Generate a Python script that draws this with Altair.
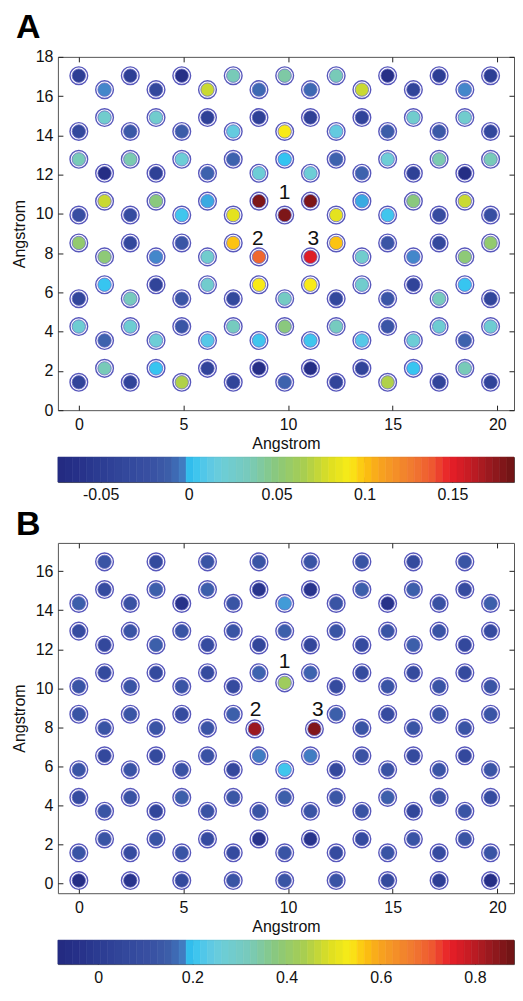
import altair as alt
import pandas as pd

FONT = "Liberation Sans"

# lattice columns (Angstrom)
X_COLS = [0.00, 1.23, 2.46, 3.69, 4.92, 6.15, 7.38, 8.61, 9.84, 11.07,
          12.30, 13.53, 14.76, 15.99, 17.22, 18.45, 19.68]

# ---------------- panel A ----------------
A_ROW_Y = [17.04, 16.33, 14.91, 14.20, 12.78, 12.07, 10.65, 9.94,
           8.52, 7.81, 6.39, 5.68, 4.26, 3.55, 2.13, 1.42]
A_ROW_VAL = [
    [-0.048, -0.048, -0.066, 0.035, 0.040, 0.035, -0.066, -0.048, -0.048],
    [-0.002, -0.035, 0.075, -0.008, -0.008, 0.075, -0.040, -0.002],
    [0.025, 0.025, -0.045, -0.045, -0.045, -0.040, 0.025, 0.025],
    [-0.035, -0.015, -0.012, 0.015, 0.092, 0.015, -0.012, -0.015, -0.035],
    [0.035, 0.037, 0.020, -0.010, 0.002, -0.010, 0.020, 0.037, 0.035],
    [-0.068, -0.045, -0.010, 0.020, 0.020, -0.010, -0.045, -0.068],
    [0.075, 0.050, 0.000, 0.180, 0.180, 0.000, 0.050, 0.075],
    [-0.025, -0.030, 0.005, 0.083, 0.180, 0.083, 0.005, -0.030, -0.025],
    [0.055, -0.035, -0.018, 0.100, None, 0.100, -0.018, -0.035, 0.055],
    [0.052, -0.002, 0.025, 0.133, 0.152, 0.025, -0.002, 0.052],
    [0.003, -0.040, 0.025, 0.092, 0.092, 0.025, -0.040, 0.003],
    [-0.038, 0.033, -0.018, -0.035, 0.030, -0.035, -0.018, 0.033, -0.038],
    [0.022, 0.022, -0.018, 0.032, 0.050, 0.032, -0.018, 0.022, 0.022],
    [-0.010, 0.020, 0.010, 0.005, 0.005, 0.010, 0.020, -0.010],
    [0.035, 0.003, -0.040, -0.068, -0.068, -0.040, 0.003, 0.035],
    [-0.040, -0.040, 0.068, -0.040, -0.010, -0.040, 0.068, -0.040, -0.040],
]
A_LABEL_X = [9.84, 8.55, 11.21]
A_LABEL_Y = [10.76, 8.39, 8.39]
A_LABEL_T = ["1", "2", "3"]
A_CBAR_MIN, A_CBAR_MAX = -0.0743, 0.185
A_CBAR_TICKS = [-0.05, 0, 0.05, 0.1, 0.15]
A_X_DOMAIN = [-1.0, 20.8]
A_Y_DOMAIN = [0, 18]
A_Y_TICKS = [0, 2, 4, 6, 8, 10, 12, 14, 16, 18]

# ---------------- panel B ----------------
B_ROW_Y = [16.48, 15.06, 14.35, 12.93, 12.22, 10.80, 10.09, 8.67,
           7.96, 6.54, 5.83, 4.41, 3.70, 2.28, 1.57, 0.15]
B_ROW_VAL = [
    [0.12, 0.07, 0.12, 0.12, 0.12, 0.12, 0.07, 0.12],
    [0.08, 0.15, 0.15, -0.03, -0.03, 0.15, 0.15, 0.08],
    [0.15, 0.11, -0.04, 0.12, 0.19, 0.12, -0.04, 0.11, 0.15],
    [0.08, 0.12, 0.12, 0.12, 0.15, 0.12, 0.12, 0.12, 0.08],
    [0.06, 0.15, 0.08, 0.05, 0.05, 0.08, 0.15, 0.06],
    [0.07, 0.07, 0.075, 0.155, 0.155, 0.075, 0.07, 0.07],
    [0.12, 0.12, 0.12, 0.075, None, 0.075, 0.12, 0.12, 0.12],
    [0.12, 0.12, 0.08, 0.15, None, 0.15, 0.08, 0.12, 0.12],
    [0.12, 0.12, 0.12, None, None, 0.12, 0.12, 0.12],
    [0.06, 0.07, 0.115, 0.18, 0.18, 0.115, 0.07, 0.06],
    [0.12, 0.12, 0.115, 0.06, 0.21, 0.06, 0.115, 0.12, 0.12],
    [0.08, 0.115, 0.15, 0.13, 0.15, 0.13, 0.15, 0.115, 0.08],
    [0.12, 0.05, 0.115, 0.12, 0.12, 0.115, 0.05, 0.12],
    [0.12, 0.12, 0.08, -0.03, -0.03, 0.08, 0.12, 0.12],
    [0.12, 0.08, 0.12, 0.08, 0.12, 0.08, 0.12, 0.08, 0.12],
    [-0.06, -0.03, 0.07, 0.12, 0.12, 0.12, 0.07, 0.01, -0.06],
]
# relaxed atoms next to the vacancy in B
B_DEFECT_X = [9.84, 8.41, 11.26]
B_DEFECT_Y = [10.28, 7.92, 7.92]
B_DEFECT_V = [0.42, 0.83, 0.86]
B_LABEL_X = [9.84, 8.45, 11.42]
B_LABEL_Y = [11.04, 8.57, 8.57]
B_LABEL_T = ["1", "2", "3"]
B_CBAR_MIN, B_CBAR_MAX = -0.0856, 0.883
B_CBAR_TICKS = [0, 0.2, 0.4, 0.6, 0.8]
B_X_DOMAIN = [-1.0, 20.8]
B_Y_DOMAIN = [-0.5, 17.45]
B_Y_TICKS = [0, 2, 4, 6, 8, 10, 12, 14, 16]

# colormap (jet as printed), positions as fraction of the colorbar
CMAP_POS = [0.0, 0.05, 0.10, 0.15, 0.20, 0.24, 0.27, 0.283, 0.29, 0.33,
            0.36, 0.42, 0.48, 0.54, 0.60, 0.64, 0.66, 0.675, 0.70, 0.74,
            0.78, 0.82, 0.86, 0.90, 0.94, 1.0]
CMAP_COLORS = ["#232a80", "#27328a", "#2d3e94", "#33489c", "#3850a2", "#3c5ca8",
               "#3f74bc", "#4690d0", "#2ec4f2", "#5cc8e6", "#6ccdd8", "#78caba",
               "#8ac87c", "#a8ce50", "#e0e020", "#f8ec18", "#fcd014", "#fcc010",
               "#f8a81c", "#f49028", "#f07830", "#ee5830", "#e81e28", "#c81c24",
               "#a01a20", "#6c1414"]

PLOT_W = 457


def color_scale(vmin, vmax):
    return alt.Scale(domain=[vmin + p * (vmax - vmin) for p in CMAP_POS],
                     range=CMAP_COLORS, interpolate="rgb", clamp=True)


def lattice(row_y, row_vals, extra_x=(), extra_y=(), extra_v=()):
    recs = []
    for y, vals in zip(row_y, row_vals):
        cols = X_COLS[0::2] if len(vals) == 9 else X_COLS[1::2]
        for x, v in zip(cols, vals):
            if v is not None:
                recs.append({"x": x, "y": y, "v": v})
    for x, y, v in zip(extra_x, extra_y, extra_v):
        recs.append({"x": x, "y": y, "v": v})
    return pd.DataFrame(recs)


def panel(df, lab, xdom, ydom, yticks, cscale, letter, height, title_offset):
    xs = alt.Scale(domain=xdom, nice=False, zero=False)
    ys = alt.Scale(domain=ydom, nice=False, zero=False)
    ring = alt.Chart(df).mark_point(shape="circle", filled=False, size=314,
                                    stroke="#5858bc", strokeWidth=1.4, opacity=1).encode(
        x=alt.X("x:Q", scale=xs, axis=alt.Axis(values=[0, 5, 10, 15, 20], title="Angstrom",
                                               orient="bottom", offset=-5, tickSize=5,
                                               domain=False, grid=False, labelPadding=6,
                                               titlePadding=3)),
        y=alt.Y("y:Q", scale=ys, axis=alt.Axis(values=yticks, title="Angstrom", orient="left",
                                               offset=-5, tickSize=5, domain=False, grid=False,
                                               labelPadding=5, titlePadding=8)),
    )
    disc = alt.Chart(df).mark_circle(size=180, opacity=1, stroke="#6c6cc6",
                                     strokeWidth=0.8).encode(
        x=alt.X("x:Q", scale=xs, axis=alt.Axis(values=[0, 5, 10, 15, 20], orient="top",
                                               offset=-5, tickSize=5, labels=False,
                                               title=None, domain=False, grid=False)),
        y=alt.Y("y:Q", scale=ys, axis=alt.Axis(values=yticks, orient="right", offset=-5,
                                               tickSize=5, labels=False, title=None,
                                               domain=False, grid=False)),
        color=alt.Color("v:Q", scale=cscale, legend=None),
    )
    text = alt.Chart(lab).mark_text(fontSize=21, font=FONT, baseline="alphabetic",
                                    align="center", color="#111").encode(
        x=alt.X("x:Q", scale=xs, axis=None),
        y=alt.Y("y:Q", scale=ys, axis=None),
        text="t:N",
    )
    return alt.layer(ring, disc, text).resolve_axis(x="independent", y="independent").properties(
        width=PLOT_W, height=height,
        title=alt.TitleParams(letter, anchor="start", frame="group", fontSize=34,
                              fontWeight="bold", font=FONT, dx=-42, offset=title_offset,
                              baseline="alphabetic", color="#000"))


def colorbar(vmin, vmax, ticks, cscale, height):
    n = 64
    step = (vmax - vmin) / n
    lo = [vmin + i * step for i in range(n)]
    hi = [vmin + (i + 1) * step for i in range(n)]
    mid = [vmin + (i + 0.5) * step for i in range(n)]
    df = pd.DataFrame({"a": lo, "b": hi, "v": mid, "y0": [0.0] * n, "y1": [1.0] * n})
    xs = alt.Scale(domain=[vmin, vmax], nice=False, zero=False)
    ysc = alt.Scale(domain=[0, 1], nice=False, zero=False)
    bars = alt.Chart(df).mark_rect(strokeWidth=0.6).encode(
        x=alt.X("a:Q", scale=xs, axis=alt.Axis(values=ticks, orient="bottom", offset=-5,
                                               tickSize=5, domain=False, grid=False, title=None,
                                               labelPadding=5, format="~g",
                                               labelExpr="replace(datum.label, '\u2212', '-')")),
        x2="b:Q",
        y=alt.Y("y0:Q", scale=ysc, axis=None),
        y2="y1:Q",
        color=alt.Color("v:Q", scale=cscale, legend=None),
        stroke=alt.Stroke("v:Q", scale=cscale, legend=None),
    )
    top = alt.Chart(df).mark_rect(opacity=0).encode(
        x=alt.X("a:Q", scale=xs, axis=alt.Axis(values=ticks, orient="top", offset=-5,
                                               tickSize=5, labels=False, domain=False,
                                               grid=False, title=None)),
        x2="b:Q",
        y=alt.Y("y0:Q", scale=ysc, axis=None),
        y2="y1:Q",
    )
    return alt.layer(bars, top).resolve_axis(x="independent").properties(width=PLOT_W, height=height)


dfA = lattice(A_ROW_Y, A_ROW_VAL)
dfB = lattice(B_ROW_Y, B_ROW_VAL, B_DEFECT_X, B_DEFECT_Y, B_DEFECT_V)
labA = pd.DataFrame({"x": A_LABEL_X, "y": A_LABEL_Y, "t": A_LABEL_T})
labB = pd.DataFrame({"x": B_LABEL_X, "y": B_LABEL_Y, "t": B_LABEL_T})

csA = color_scale(A_CBAR_MIN, A_CBAR_MAX)
csB = color_scale(B_CBAR_MIN, B_CBAR_MAX)

pA = panel(dfA, labA, A_X_DOMAIN, A_Y_DOMAIN, A_Y_TICKS, csA, "A", 354, -23)
cA = colorbar(A_CBAR_MIN, A_CBAR_MAX, A_CBAR_TICKS, csA, 25)
pB = panel(dfB, labB, B_X_DOMAIN, B_Y_DOMAIN, B_Y_TICKS, csB, "B", 351, -27)
cB = colorbar(B_CBAR_MIN, B_CBAR_MAX, B_CBAR_TICKS, csB, 24)

chart = alt.vconcat(pA, cA, pB, cB, spacing=4).resolve_scale(
    x="independent", y="independent", color="independent", stroke="independent"
).properties(
    padding={"left": 2, "top": 1, "right": 0, "bottom": 0}
).configure(font=FONT).configure_view(
    stroke="#555555", strokeWidth=1
).configure_axis(
    labelFont=FONT, labelFontSize=16, labelColor="#111111",
    titleFont=FONT, titleFontSize=16, titleFontWeight="normal", titleColor="#111111",
    tickColor="#222222", tickWidth=1,
)

chart.save("out.html", embed_options={"renderer": "svg", "actions": False})
